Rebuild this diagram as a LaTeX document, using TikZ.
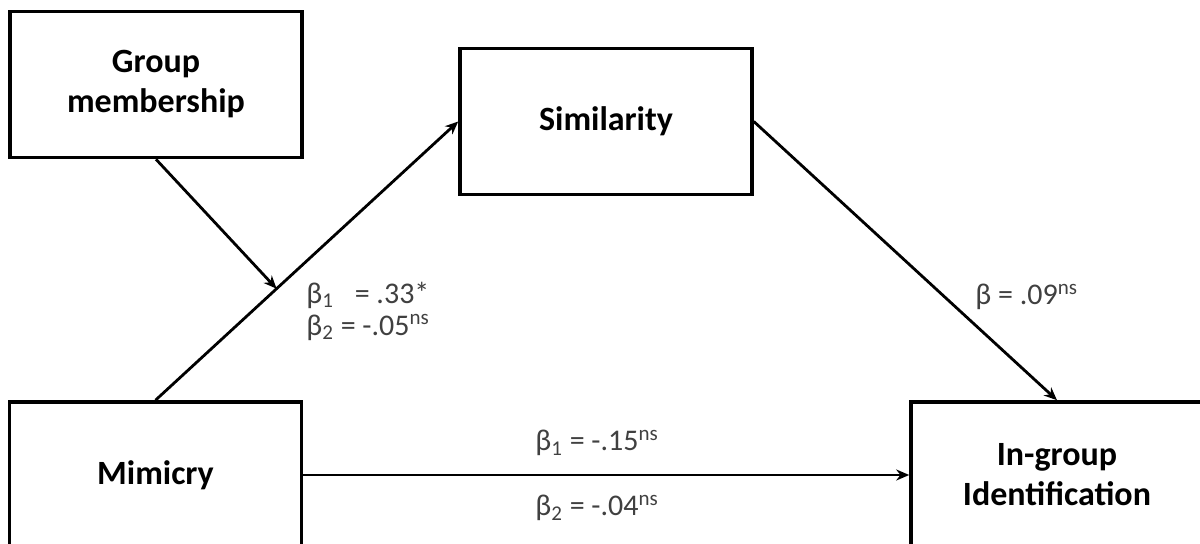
\documentclass[tikz,border=0pt]{standalone}
\usepackage{fontspec}
\setmainfont{Carlito}
\usetikzlibrary{arrows.meta, positioning}
\definecolor{coefgray}{HTML}{404040}

\begin{document}
\begin{tikzpicture}[
        x=0.5pt, y=-0.5pt,
        construct/.style={rectangle, draw=black, line width=1.8pt, fill=white, minimum width=146pt, minimum height=73pt, align=center, inner sep=0pt, font=\fontsize{17}{20}\selectfont\bfseries},
        effect/.style={-{Stealth[length=6.5pt, width=5.5pt]}, line width=1.4pt, draw=black},
        coef/.style={anchor=west, inner sep=0pt, align=left, text=coefgray, font=\fontsize{15}{16}\selectfont}
    ]
        \useasboundingbox (0,0) rectangle (1200,544);
        \clip (0,0) rectangle (1200,544);

        \node[construct] (group) at (156,84.5) {Group\\membership};
        \node[construct] (similarity) at (606,121.5) {Similarity};
        \node[construct] (mimicry) at (155.5,475) {Mimicry};
        \node[construct] (ingroup) at (1057,475) {In-group\\Identification};

        \draw[effect] (mimicry.north) -- coordinate[pos=0.4] (moderation) (similarity.west);
        \draw[effect] (group.south) -- (moderation);
        \draw[effect] (similarity.east) -- (ingroup.north);
        \draw[effect] (mimicry.east) -- (ingroup.west);

        \node[coef] (betasim) at (306,311) {β\textsubscript{1}\hspace{7pt} = .33*\\β\textsubscript{2} = -.05\textsuperscript{ns}};
        \node[coef] (betaout) at (975,297) {β = .09\textsuperscript{ns}};
        \node[coef] (betadirone) at (535,443) {β\textsubscript{1} = -.15\textsuperscript{ns}};
        \node[coef] (betadirtwo) at (535,508) {β\textsubscript{2} = -.04\textsuperscript{ns}};
    \end{tikzpicture}
\end{document}
